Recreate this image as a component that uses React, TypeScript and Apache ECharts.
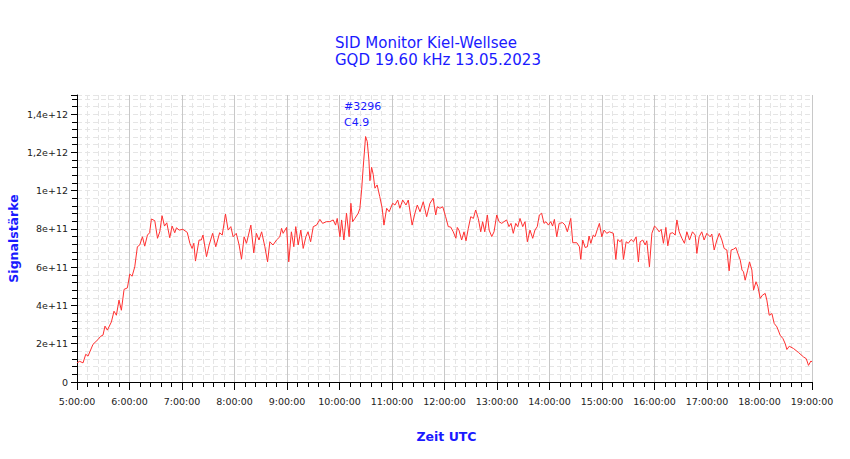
import React, { useEffect, useRef } from 'react';
import * as echarts from 'echarts';

// Titel und Beschriftungen
const titleLines = ['SID Monitor Kiel-Wellsee', 'GQD 19.60 kHz 13.05.2023'];
const flareLines = ['#3296', 'C4.9'];
const yName = 'Signalstärke';
const xName = 'Zeit UTC';
const startHour = 5;
const endHour = 19;

// Zeit in Minuten ab 5:00 UTC
const minutes = [
  0, 3, 6.9, 10, 12.6, 18.3, 24, 27, 29.7, 32, 34.7, 39.3, 42.3, 45, 48, 50.7, 53.8, 57.6,
  60.3, 63, 66, 69, 71.7, 74.8, 77.4, 80.5, 83, 85, 88.9, 92, 94.6, 97.2, 100, 102.6, 106,
  108.7, 111.7, 113.7, 116.7, 121, 126, 129, 131.5, 133.5, 135.4, 139.5, 142, 144, 148, 151,
  155, 158.6, 163, 166, 169.7, 172.7, 175.8, 178.4, 182, 185.3, 188, 191, 193.7, 198.7, 202,
  205, 208, 211, 214.7, 217.8, 220.4, 224, 228, 231.8, 233.8, 235.6, 239.5, 242, 245, 247.8,
  250, 252.8, 255.8, 258.5, 261.6, 264, 267, 270, 273.8, 277.6, 280.7, 285, 289, 292.8,
  295.5, 297.4, 300.5, 302.4, 305, 308, 311, 313, 315, 317.6, 321.4, 323.3, 325.3, 327,
  329.8, 331.7, 333.6, 334.8, 336.7, 338.5, 340.5, 343, 346, 348.8, 350.8, 353.9, 356.8,
  360.7, 363.4, 366.5, 369, 372.2, 376, 378.6, 383, 386.2, 388.9, 392, 395.7, 399.6, 403.4,
  407, 410, 411.7, 414.8, 418, 421.3, 424.3, 427, 430, 433, 434.6, 436.5, 439.6, 442.3,
  444.6, 447.2, 450, 453, 455.6, 458.6, 461.4, 463.6, 466, 469, 471, 474, 476.6, 479.7,
  482.3, 485.4, 488, 491, 493.7, 496, 498.6, 501.4, 503.7, 506.3, 509.4, 512, 514.7, 517.7,
  520.8, 523.4, 526, 528.4, 531, 533.7, 536, 538.7, 541.4, 543.5, 545.6, 548.3, 551, 555,
  557.8, 560.4, 564.3, 566.6, 571.2, 574.2, 575.7, 578, 580.7, 583.3, 585.2, 587.2, 590, 592,
  594.7, 597, 599.8, 602.4, 605.4, 608.4, 613, 615.8, 618, 620.7, 622.6, 624.5, 627.6, 630,
  633.3, 636, 639, 641.6, 643.6, 646.6, 649.3, 651.2, 654.2, 657, 660, 662.7, 665.3, 667.6,
  670.2, 673, 675.2, 677.9, 681, 683.6, 685.6, 688.2, 691.3, 694.2, 697, 700, 703.4, 706.5,
  708.4, 711, 714, 716.7, 719.8, 723.6, 725.5, 728.2, 731.3, 734, 737, 739.6, 742.7, 745.3,
  747.6, 750.3, 753, 756, 758, 760, 761.7, 763.6, 766.3, 768.6, 771.3, 773.2, 776, 778.2,
  780.8, 783.4, 786.5, 788.4, 791.1, 794.2, 796.8, 799.9, 803.7, 806.8, 809.4, 811.3, 814,
  818.9, 824.6, 830.3, 833.4, 836, 838.8, 840
];

// Signalstärke in Einheiten von 1e11
const signal = [
  1.0, 1.08, 1.0, 1.45, 1.35, 1.97, 2.22, 2.39, 2.45, 2.92, 2.71, 3.14, 3.7, 3.49, 4.28, 3.75, 4.84, 4.92,
  5.64, 5.53, 6.02, 7.07, 7.16, 7.59, 7.1, 7.68, 7.8, 8.52, 8.43, 7.51, 7.85, 8.69, 8.15, 8.32, 7.54,
  8.15, 7.8, 8.06, 7.94, 7.98, 7.82, 7.25, 6.98, 7.25, 6.32, 7.42, 7.42, 7.68, 6.55, 7.16,
  7.77, 7.07, 7.8, 7.68, 8.78, 7.94, 8.12, 7.59, 7.77, 7.16, 6.42, 7.59, 7.25, 8.2, 6.75,
  7.77, 7.42, 7.85, 7.07, 6.28, 7.33, 7.16, 7.42, 7.59, 8.03, 7.77, 8.08, 6.28, 7.85, 7.07,
  8.12, 7.16, 7.94, 6.98, 7.59, 7.85, 7.33, 8.12, 8.2, 8.5, 8.29, 8.38, 8.38, 8.47,
  8.2, 8.55, 7.59, 8.47, 7.42, 8.82, 7.59, 9.34, 8.38, 8.55, 8.82, 9.08, 10.04, 11.17,
  12.83, 12.57, 11.6, 10.52, 11.22, 10.85, 10.13, 10.3, 9.69, 9.08, 8.2, 9.08, 8.9,
  9.34, 9.25, 9.51, 9.08, 9.51, 9.25, 9.51, 8.2, 8.82, 9.25, 8.9, 9.42, 8.64, 9.34,
  9.6, 8.73, 9.16, 9.08, 9.16, 8.64, 8.12, 8.1, 7.85, 7.51, 8.08, 7.94, 7.42, 7.85,
  7.38, 8.03, 8.64, 8.55, 8.99, 8.55, 7.85, 8.38, 7.85, 8.73, 7.94, 7.6, 7.85, 8.73,
  8.38, 8.29, 8.38, 8.47, 8.12, 8.29, 7.77, 8.29, 8.12, 8.55, 8.12, 8.38, 7.33, 7.94,
  7.51, 7.94, 8.12, 8.73, 8.82, 8.29, 8.38, 8.2, 8.38, 8.15, 8.5, 7.59, 8.29, 8.33,
  8.2, 7.85, 8.55, 7.28, 7.28, 7.07, 6.41, 7.42, 7.03, 7.07, 7.63, 7.25, 7.68, 7.59,
  7.98, 8.29, 7.59, 7.94, 7.77, 7.85, 7.77, 6.41, 7.45, 7.33, 7.45, 6.41, 7.33, 7.25,
  7.45, 7.33, 7.59, 6.28, 7.33, 7.42, 7.16, 7.38, 6.02, 7.77, 8.15, 8.03, 7.85, 7.98,
  7.25, 8.08, 7.12, 7.77, 7.8, 7.68, 8.47, 7.85, 7.51, 7.25, 7.85, 7.42, 7.85, 7.68,
  6.72, 7.59, 7.85, 7.42, 7.77, 7.59, 7.73, 6.9, 7.42, 7.77, 7.42, 6.98, 6.9, 5.81,
  6.9, 6.94, 7.03, 6.63, 6.37, 5.85, 5.76, 5.32, 5.81, 6.28, 5.85, 4.8, 5.24, 4.98,
  4.37, 4.54, 4.63, 4.28, 3.49, 3.58, 3.06, 2.88, 2.44, 2.27, 2.0, 1.7, 1.87,
  1.75, 1.54, 1.31, 1.22, 0.87, 1.1, 1.05
];

const BLUE = '#1a1aff';
const FONT = 'DejaVu Sans';

// 1.2e12 -> "1,2e+12"
const formatSignal = (v: number) => {
  if (v === 0) return '0';
  if (v > 1.41e12) return '';
  const e = Math.floor(Math.log10(v) + 1e-9);
  const m = Math.round((v / Math.pow(10, e)) * 10) / 10;
  return String(m).replace('.', ',') + 'e+' + e;
};

const formatTime = (v: number) => `${startHour + Math.round(v / 60)}:00:00`;

const App: React.FC = () => {
  const chartRef = useRef<HTMLDivElement>(null);

  useEffect(() => {
    if (!chartRef.current) return;
    const chart = echarts.init(chartRef.current, null, { renderer: 'svg' });

    const points = minutes.map((m, i) => [m, signal[i] * 1e11]);
    let peak = 0;
    signal.forEach((s, i) => {
      if (s > signal[peak]) peak = i;
    });

    const dashed = { color: '#e5e5e5', width: 1, type: [5, 3] as number[] };

    chart.setOption({
      animation: false,
      backgroundColor: '#ffffff',
      title: {
        text: titleLines.join('\n'),
        left: 335,
        top: 34,
        padding: 0,
        textStyle: {
          color: BLUE,
          fontSize: 15,
          fontWeight: 'normal',
          fontFamily: FONT,
          lineHeight: 17
        }
      },
      grid: {
        left: 77,
        right: 38,
        top: 95,
        bottom: 77,
        containLabel: false,
        outerBoundsMode: 'none'
      },
      xAxis: {
        type: 'value',
        min: 0,
        max: (endHour - startHour) * 60,
        interval: 60,
        name: xName,
        nameLocation: 'middle',
        nameGap: 48,
        nameMoveOverlap: false,
        nameTextStyle: {
          color: BLUE,
          fontWeight: 'bold',
          fontSize: 12.5,
          fontFamily: FONT,
          padding: [0, 0, 0, 4]
        },
        axisLine: { show: true, onZero: false, lineStyle: { color: '#000', width: 1 } },
        axisTick: { show: true, length: 8, lineStyle: { color: '#000' } },
        minorTick: { show: true, splitNumber: 5, length: 5, lineStyle: { color: '#000' } },
        axisLabel: {
          formatter: formatTime,
          color: '#222',
          fontSize: 9.5,
          fontFamily: FONT,
          margin: 14
        },
        splitLine: { show: true, lineStyle: { color: '#c8c8c8', width: 1 } },
        minorSplitLine: { show: true, lineStyle: dashed }
      },
      yAxis: {
        type: 'value',
        min: 0,
        max: 1.5e12,
        interval: 2e11,
        name: yName,
        nameLocation: 'middle',
        nameGap: 57,
        nameRotate: 90,
        nameMoveOverlap: false,
        nameTextStyle: {
          color: BLUE,
          fontWeight: 'bold',
          fontSize: 12.5,
          fontFamily: FONT
        },
        axisLine: { show: true, lineStyle: { color: '#000', width: 1 } },
        axisTick: { show: true, length: 6, lineStyle: { color: '#000' } },
        minorTick: { show: true, splitNumber: 5, length: 5, lineStyle: { color: '#000' } },
        axisLabel: {
          formatter: formatSignal,
          color: '#222',
          fontSize: 9.5,
          fontFamily: FONT,
          margin: 9
        },
        splitLine: { show: true, lineStyle: dashed },
        minorSplitLine: { show: true, lineStyle: dashed }
      },
      series: [
        {
          type: 'line',
          data: points,
          showSymbol: false,
          symbol: 'none',
          lineStyle: { color: '#ff3030', width: 1 },
          z: 3,
          markPoint: {
            symbol: 'circle',
            symbolSize: 1,
            itemStyle: { color: 'rgba(0,0,0,0)' },
            data: [
              {
                coord: points[peak],
                label: {
                  show: true,
                  formatter: flareLines.join('\n'),
                  position: [-21, -38],
                  align: 'left',
                  verticalAlign: 'top',
                  color: BLUE,
                  fontSize: 11,
                  fontFamily: FONT,
                  lineHeight: 16
                }
              }
            ]
          }
        }
      ]
    });

    return () => {
      chart.dispose();
    };
  }, []);

  return (
    <div
      ref={chartRef}
      style={{ position: 'fixed', left: 0, top: 0, width: 850, height: 459, background: '#fff' }}
    />
  );
};

export default App;
